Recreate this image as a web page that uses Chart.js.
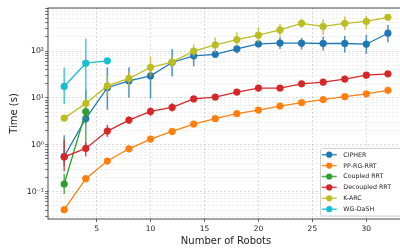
<!DOCTYPE html>
<html>
<head>
<meta charset="utf-8">
<script src="https://cdn.jsdelivr.net/npm/chart.js@4.4.1/dist/chart.umd.min.js"></script>
<style>
html,body{margin:0;padding:0;background:#fff;overflow:hidden;width:400px;height:249px;}
canvas{display:block;}
</style>
</head>
<body>
<canvas id="c" width="408" height="249"></canvas>
<script>
// ---- data ----
const robots = [2,4,6,8,10,12,14,16,18,20,22,24,26,28,30,32];

const cipher   = [0.56,3.6,16.5,23,29.5,57,79,85,111,142,148,147,145,145,140,240];
const cipherLo = [0.35,2.8,5.6,10.2,9.7,28.6,47,74,90,125,110,108,103,93,87,155];
const cipherHi = [1.6,4.6,45,45,47,110,106,102,129,160,198,190,204,211,221,362];

const ppRgRrt  = [0.041,0.188,0.449,0.82,1.32,1.92,2.76,3.6,4.6,5.5,6.7,7.9,9.2,10.6,12.2,14.5];

const coupledRobots = [2,4];
const coupled   = [0.145,5.1];
const coupledLo = [0.089,1.0];
const coupledHi = [0.24,15];

const decoupled   = [0.55,0.835,1.96,3.36,5.14,6.25,9.5,10.4,13.3,16.2,16.2,20,21.7,25.2,30.6,32.6];
const decoupledLo = [0.27,0.56,1.46,2.8,4.1,5.1,8.4,9.5,12.0,15.0,15.0,18.5,20.2,23.5,28.5,30.5];
const decoupledHi = [1.28,1.12,2.67,4.0,6.3,7.7,10.8,11.4,14.6,17.5,17.5,21.6,23.3,27.0,33.0,35.0];

const karc   = [3.7,7.6,18,26,45,58,100,135,175,218,283,390,335,390,430,525];
const karcLo = [3.5,6.5,10.7,18,28.6,45,76,93,131,152,204,317,221,283,297,470];
const karcHi = [3.9,9,31,36,76,75,140,194,253,324,380,486,480,545,571,590];

const wgRobots = [2,4,6];
const wgDash   = [17.5,55,62];
const wgDashLo = [7.4,9,60];
const wgDashHi = [44.5,182,64];

const xTicks = [5,10,15,20,25,30];
const yDecades = [-2,-1,0,1,2];

// ---- build ----
function pts(xs, ys){ return xs.map((x,i)=>({x:x, y:ys[i]})); }
const yTicks = [];
yDecades.forEach(e=>{ for(let m=1;m<=9;m++){ const v=Number((m*Math.pow(10,e)).toPrecision(3)); if(v>=0.026 && v<=830) yTicks.push(v);} });
const sup = {'-':'⁻','0':'⁰','1':'¹','2':'²','3':'³','4':'⁴','5':'⁵','6':'⁶','7':'⁷','8':'⁸','9':'⁹'};
function isDecade(v){ const l=Math.log10(v); return Math.abs(l-Math.round(l))<1e-9; }

function ds(label, color, xs, ys, lo, hi, order){
  return {label, data: pts(xs,ys), errLo: lo, errHi: hi, borderColor: color, backgroundColor: color,
    pointBackgroundColor: color, pointBorderColor: color, pointRadius: 3.4, pointBorderWidth: 0.5,
    pointHoverRadius: 3.4, borderWidth: 1.3, tension: 0, order: order};
}
const datasets = [
  ds('CIPHER', '#1f77b4', robots, cipher, cipherLo, cipherHi, 6),
  ds('PP-RG-RRT', '#ff7f0e', robots, ppRgRrt, null, null, 5),
  ds('Coupled RRT', '#2ca02c', coupledRobots, coupled, coupledLo, coupledHi, 4),
  ds('Decoupled RRT', '#d62728', robots, decoupled, decoupledLo, decoupledHi, 3),
  ds('K-ARC', '#bcbd22', robots, karc, karcLo, karcHi, 2),
  ds('WG-DaSH', '#17becf', wgRobots, wgDash, wgDashLo, wgDashHi, 1)
];

function withAlpha(hex, a){
  const r=parseInt(hex.slice(1,3),16), g=parseInt(hex.slice(3,5),16), b=parseInt(hex.slice(5,7),16);
  return 'rgba('+r+','+g+','+b+','+a+')';
}

const errorBars = {
  id: 'errorBars',
  beforeDatasetDraw(chart, args){
    const d = chart.data.datasets[args.index];
    if(!d.errLo) return;
    const xs = chart.scales.x, ys = chart.scales.y, ctx = chart.ctx;
    ctx.save();
    ctx.strokeStyle = withAlpha(d.borderColor, 0.8);
    ctx.lineWidth = 1.5;
    d.data.forEach((p,i)=>{
      const x = xs.getPixelForValue(p.x);
      ctx.beginPath();
      ctx.moveTo(x, ys.getPixelForValue(d.errLo[i]));
      ctx.lineTo(x, ys.getPixelForValue(d.errHi[i]));
      ctx.stroke();
    });
    ctx.restore();
  }
};

const frameAndLegend = {
  id: 'frameAndLegend',
  afterDraw(chart){
    const ctx = chart.ctx, a = chart.chartArea;
    ctx.save();
    ctx.strokeStyle = '#333';
    ctx.lineWidth = 0.9;
    ctx.strokeRect(a.left, a.top, a.right - a.left, a.bottom - a.top);
    // legend
    const bx = 320.5, by = 148.5, bw = 90, bh = 67.5, r = 2;
    ctx.beginPath();
    ctx.moveTo(bx+r, by); ctx.lineTo(bx+bw-r, by); ctx.quadraticCurveTo(bx+bw, by, bx+bw, by+r);
    ctx.lineTo(bx+bw, by+bh-r); ctx.quadraticCurveTo(bx+bw, by+bh, bx+bw-r, by+bh);
    ctx.lineTo(bx+r, by+bh); ctx.quadraticCurveTo(bx, by+bh, bx, by+bh-r);
    ctx.lineTo(bx, by+r); ctx.quadraticCurveTo(bx, by, bx+r, by);
    ctx.closePath();
    ctx.fillStyle = 'rgba(255,255,255,0.85)';
    ctx.fill();
    ctx.strokeStyle = '#d0d0d0';
    ctx.lineWidth = 1;
    ctx.stroke();
    ctx.font = '6.3px "DejaVu Sans"';
    ctx.textBaseline = 'middle';
    chart.data.datasets.forEach((d,i)=>{
      const y = 154.7 + i*10.9;
      ctx.strokeStyle = withAlpha(d.borderColor, 0.85);
      ctx.lineWidth = 1.5;
      ctx.beginPath(); ctx.moveTo(321.7, y); ctx.lineTo(336.7, y); ctx.stroke();
      ctx.fillStyle = d.borderColor;
      ctx.beginPath(); ctx.arc(329.2, y, 3.1, 0, Math.PI*2); ctx.fill();
      ctx.fillStyle = '#222';
      ctx.fillText(d.label, 343.3, y + 0.3);
    });
    ctx.restore();
  }
};

new Chart(document.getElementById('c'), {
  type: 'line',
  data: { datasets },
  plugins: [errorBars, frameAndLegend],
  options: {
    responsive: false,
    devicePixelRatio: 1,
    animation: false,
    events: [],
    layout: { padding: { left: 0, top: 8, right: 3.5, bottom: 0 } },
    plugins: { legend: { display: false }, tooltip: { enabled: false } },
    scales: {
      x: {
        type: 'linear', min: 0.5, max: 33.5,
        afterBuildTicks: s => { s.ticks = xTicks.map(v=>({value:v})); },
        afterFit: s => { s.height = 30; },
        ticks: { font: { family: 'DejaVu Sans', size: 7.5 }, color: '#222', padding: 2.5, maxRotation: 0, autoSkip: false },
        grid: { color: 'rgba(0,0,0,0.17)', lineWidth: 0.8, tickColor: '#444', tickLength: 3 },
        border: { display: false, dash: [2,2] },
        title: { display: true, text: 'Number of Robots', font: { family: 'DejaVu Sans', size: 10 }, color: '#222', padding: { top: 0, bottom: 2 } }
      },
      y: {
        type: 'logarithmic', min: 0.026, max: 830,
        afterBuildTicks: s => { s.ticks = yTicks.map(v=>({value:v, major:isDecade(v)})); },
        afterFit: s => { s.width = 48; },
        ticks: {
          font: { family: 'DejaVu Sans', size: 7.8 }, color: '#222', padding: 1, autoSkip: false,
          callback: (v) => { if(!isDecade(v)) return ''; const e = String(Math.round(Math.log10(v))); return '10' + e.split('').map(c=>sup[c]).join(''); }
        },
        grid: {
          color: c => (c.tick && isDecade(c.tick.value)) ? 'rgba(0,0,0,0.17)' : 'rgba(0,0,0,0.09)',
          lineWidth: 0.8, tickColor: '#555', tickLength: 3
        },
        border: { display: false, dash: [2,2] },
        title: { display: true, text: 'Time (s)', font: { family: 'DejaVu Sans', size: 10 }, color: '#222', padding: { top: 8.5, bottom: 0 } }
      }
    }
  }
});
</script>
</body>
</html>
